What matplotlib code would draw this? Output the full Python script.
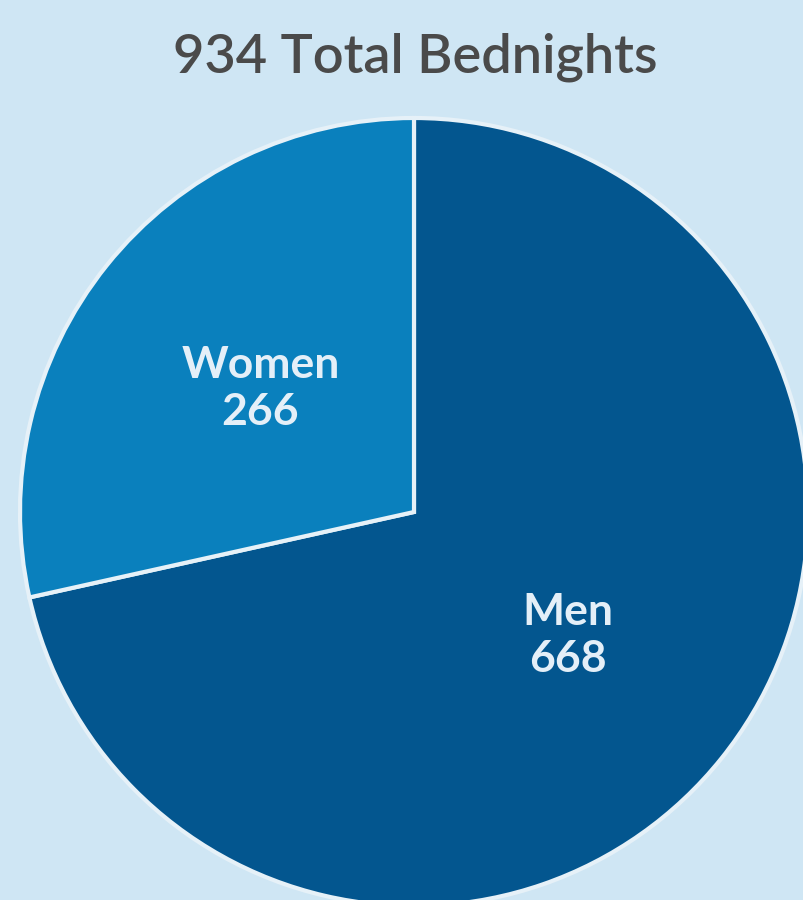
import matplotlib.pyplot as plt

categories = ['Men', 'Women']
values = [668, 266]
colors = ['#03568F', '#0A80BD']
bg = '#CFE6F4'

fig = plt.figure(figsize=(8.04, 9), dpi=100, facecolor=bg)
ax = fig.add_axes([0, 0, 1, 1])
ax.set_facecolor(bg)

labels = [f'{c}\n{v}' for c, v in zip(categories, values)]
wedges, texts = ax.pie(values, labels=labels, colors=colors, startangle=90,
                       counterclock=False, radius=394, center=(414, 388),
                       labeldistance=0.5, frame=True,
                       wedgeprops=dict(edgecolor='#E6F1F8', linewidth=3),
                       textprops=dict(color='#E4EFF8', fontsize=32, fontweight='bold',
                                      family='Lato', ha='center', va='center',
                                      linespacing=1.2))
ax.set_xlim(0, 804)
ax.set_ylim(0, 900)
ax.set_aspect('equal')
ax.axis('off')

fig.text(415 / 804, 1 - 57 / 900, f'{sum(values)} Total Bednights', ha='center', va='center',
         fontsize=39, color='#4A4A4A', family='Lato', fontweight='semibold')

plt.savefig('out.png', dpi=100, facecolor=bg)
plt.close()
